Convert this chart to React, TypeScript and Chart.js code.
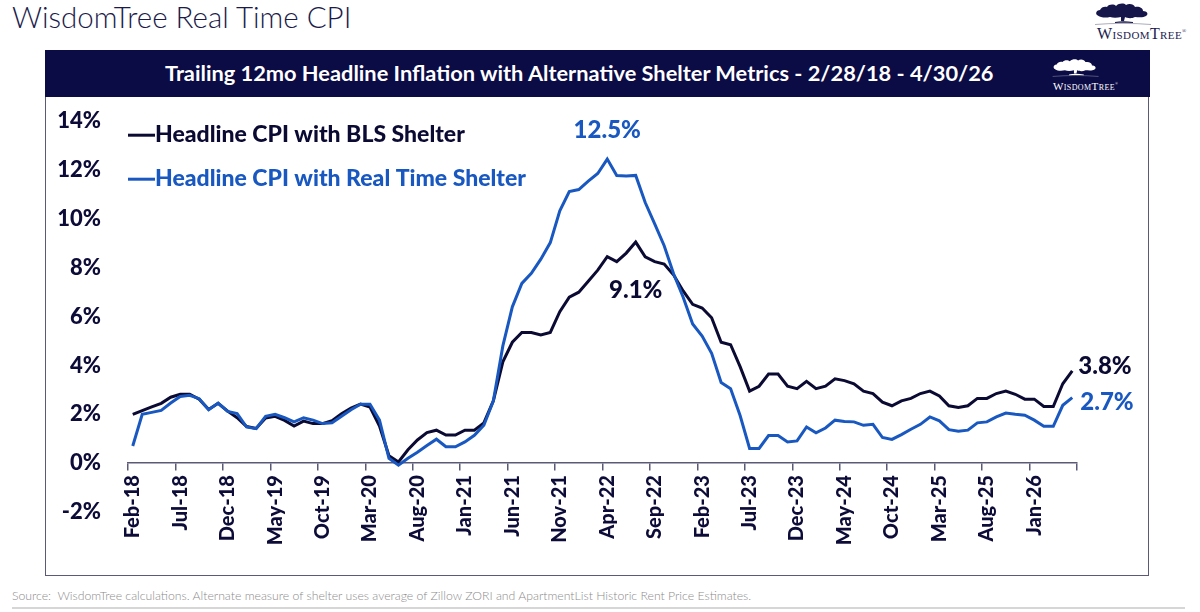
import React, { useEffect, useRef } from "react";
import { Chart, registerables } from "chart.js";

Chart.register(...registerables);

const categories = [
  "Feb-18", "Mar-18", "Apr-18", "May-18", "Jun-18", "Jul-18", "Aug-18", "Sep-18", "Oct-18", "Nov-18", "Dec-18",
  "Jan-19", "Feb-19", "Mar-19", "Apr-19", "May-19", "Jun-19", "Jul-19", "Aug-19", "Sep-19", "Oct-19", "Nov-19", "Dec-19",
  "Jan-20", "Feb-20", "Mar-20", "Apr-20", "May-20", "Jun-20", "Jul-20", "Aug-20", "Sep-20", "Oct-20", "Nov-20", "Dec-20",
  "Jan-21", "Feb-21", "Mar-21", "Apr-21", "May-21", "Jun-21", "Jul-21", "Aug-21", "Sep-21", "Oct-21", "Nov-21", "Dec-21",
  "Jan-22", "Feb-22", "Mar-22", "Apr-22", "May-22", "Jun-22", "Jul-22", "Aug-22", "Sep-22", "Oct-22", "Nov-22", "Dec-22",
  "Jan-23", "Feb-23", "Mar-23", "Apr-23", "May-23", "Jun-23", "Jul-23", "Aug-23", "Sep-23", "Oct-23", "Nov-23", "Dec-23",
  "Jan-24", "Feb-24", "Mar-24", "Apr-24", "May-24", "Jun-24", "Jul-24", "Aug-24", "Sep-24", "Oct-24", "Nov-24", "Dec-24",
  "Jan-25", "Feb-25", "Mar-25", "Apr-25", "May-25", "Jun-25", "Jul-25", "Aug-25", "Sep-25", "Oct-25", "Nov-25", "Dec-25",
  "Jan-26", "Feb-26", "Mar-26", "Apr-26", "May-26",
];

// Headline CPI with BLS Shelter (%)
const blsShelter = [
  2.0, 2.15, 2.3, 2.45, 2.7, 2.82, 2.82, 2.62, 2.2, 2.45, 2.13, 1.86,
  1.5, 1.42, 1.85, 1.92, 1.75, 1.52, 1.72, 1.62, 1.62, 1.74, 2.02, 2.25,
  2.42, 2.3, 1.52, 0.3, 0.05, 0.55, 0.95, 1.25, 1.35, 1.15, 1.15, 1.35,
  1.35, 1.65, 2.55, 4.15, 4.95, 5.35, 5.35, 5.25, 5.35, 6.2, 6.8, 7.0,
  7.45, 7.9, 8.45, 8.25, 8.6, 9.05, 8.45, 8.25, 8.15, 7.7, 7.05, 6.5,
  6.35, 5.95, 4.95, 4.85, 3.95, 2.95, 3.15, 3.65, 3.65, 3.15, 3.05, 3.35,
  3.05, 3.15, 3.45, 3.38, 3.25, 2.95, 2.85, 2.5, 2.35, 2.55, 2.65, 2.85,
  2.95, 2.75, 2.35, 2.28, 2.35, 2.65, 2.65, 2.85, 2.95, 2.82, 2.62, 2.62,
  2.32, 2.32, 3.25, 3.78,
];

// Headline CPI with Real Time Shelter (%)
const realTimeShelter = [
  0.7, 2.0, 2.08, 2.16, 2.46, 2.73, 2.78, 2.64, 2.19, 2.46, 2.12, 2.03,
  1.48, 1.41, 1.92, 2.0, 1.86, 1.69, 1.86, 1.76, 1.62, 1.65, 1.92, 2.19,
  2.41, 2.41, 1.76, 0.2, -0.08, 0.2, 0.45, 0.72, 0.98, 0.67, 0.67, 0.87,
  1.14, 1.55, 2.55, 4.8, 6.4, 7.36, 7.77, 8.35, 9.03, 10.33, 11.12, 11.2,
  11.55, 11.86, 12.45, 11.78, 11.76, 11.78, 10.67, 9.8, 8.9, 7.74, 6.79, 5.7,
  5.2, 4.5, 3.3, 3.05, 1.95, 0.6, 0.6, 1.13, 1.13, 0.87, 0.91, 1.48,
  1.24, 1.44, 1.76, 1.71, 1.69, 1.55, 1.59, 1.05, 0.97, 1.17, 1.39, 1.59,
  1.89, 1.73, 1.37, 1.31, 1.35, 1.65, 1.69, 1.89, 2.05, 2.0, 1.96, 1.76,
  1.51, 1.51, 2.37, 2.68,
];

const seriesNames = ["Headline CPI with BLS Shelter", "Headline CPI with Real Time Shelter"];
const annotationTexts = ["12.5%", "9.1%", "3.8%", "2.7%"];

const Y_MIN = -2;
const Y_MAX = 14;
const Y_STEP = 2;
const LABEL_EVERY = 5;

const NAVY = "#0d0c38";
const BLACK_LINE = "#0b0a33";
const BLUE = "#1858c0";
const BAND = "#0b0b45";
const AXIS = "#5a5a78";
const FONT = "Lato, 'Open Sans', sans-serif";
const HEAVY = "900";

const argMax = (arr: number[]) => arr.reduce((bi, v, i) => (v > arr[bi] ? i : bi), 0);

const overlayPlugin = {
  id: "overlay",
  afterDatasetsDraw(chart: any) {
    const ctx = chart.ctx;
    const ca = chart.chartArea;
    ctx.save();
    // legend
    const legendColors = [BLACK_LINE, BLUE];
    const legendY = [ca.top + 13, ca.top + 57];
    seriesNames.forEach((name, i) => {
      ctx.strokeStyle = legendColors[i];
      ctx.lineWidth = 3;
      ctx.beginPath();
      ctx.moveTo(ca.left, legendY[i] + 1);
      ctx.lineTo(ca.left + 27, legendY[i] + 1);
      ctx.stroke();
      ctx.fillStyle = legendColors[i];
      ctx.font = `${HEAVY} 23px ${FONT}`;
      ctx.textAlign = "left";
      ctx.textBaseline = "middle";
      ctx.fillText(name, ca.left + 27, legendY[i]);
    });
    // annotations
    const blackMeta = chart.getDatasetMeta(0);
    const blueMeta = chart.getDatasetMeta(1);
    const notes = [
      { el: blueMeta.data[argMax(realTimeShelter)], text: annotationTexts[0], color: BLUE, dx: 0, dy: -29, align: "center" },
      { el: blackMeta.data[argMax(blsShelter)], text: annotationTexts[1], color: BLACK_LINE, dx: 0, dy: 48, align: "center" },
      { el: blackMeta.data[blsShelter.length - 1], text: annotationTexts[2], color: BLACK_LINE, dx: 6, dy: -5, align: "left" },
      { el: blueMeta.data[realTimeShelter.length - 1], text: annotationTexts[3], color: BLUE, dx: 8, dy: 5, align: "left" },
    ];
    ctx.font = `${HEAVY} 24px ${FONT}`;
    ctx.textBaseline = "middle";
    notes.forEach((n) => {
      if (!n.el) return;
      ctx.fillStyle = n.color;
      ctx.textAlign = n.align as CanvasTextAlign;
      ctx.fillText(n.text, n.el.x + n.dx, n.el.y + n.dy);
    });
    ctx.restore();
  },
};

function TreeLogo({ color, scale }: { color: string; scale: number }) {
  return (
    <svg width={60 * scale} height={24 * scale} viewBox="0 0 60 24">
      <path
        d="M4 13 C2 11 4 8 7 8 C8 5 12 4 14 5 C16 2 21 2 23 4 C26 1 31 1 33 3 C36 1 41 2 42 5 C46 4 50 6 50 9 C54 9 56 12 53 14 C50 16 45 15 42 15 C38 17 34 16 32 15 L31 19 L28 19 L28 15 C24 16 20 16 17 15 C13 16 8 16 4 13 Z"
        fill={color}
      />
      <path d="M22 20 C27 19 33 19 40 20 L40 21 C33 20.5 27 20.5 22 21 Z" fill={color} />
      <path d="M2 22.5 C20 21 40 21 58 22.5" stroke={color} strokeWidth="0.6" fill="none" opacity="0.6" />
    </svg>
  );
}

function WordMark({ color, size }: { color: string; size: number }) {
  return (
    <span
      style={{
        fontFamily: "'Liberation Serif', 'DejaVu Serif', serif",
        fontVariant: "small-caps",
        fontSize: size,
        color,
        letterSpacing: 0.4,
        whiteSpace: "nowrap",
      }}
    >
      WisdomTree<sup style={{ fontSize: size * 0.35 }}>®</sup>
    </span>
  );
}

export default function App() {
  const canvasRef = useRef<HTMLCanvasElement | null>(null);

  useEffect(() => {
    document.body.style.margin = "0";
    const canvas = canvasRef.current;
    if (!canvas) return;
    const chart = new Chart(canvas, {
      type: "line",
      data: {
        labels: categories,
        datasets: [
          {
            label: seriesNames[0],
            data: blsShelter,
            borderColor: BLACK_LINE,
            borderWidth: 3,
            pointRadius: 0,
            tension: 0,
            fill: false,
            order: 1,
          },
          {
            label: seriesNames[1],
            data: realTimeShelter,
            borderColor: BLUE,
            borderWidth: 3,
            pointRadius: 0,
            tension: 0,
            fill: false,
            order: 0,
          },
        ],
      },
      options: {
        responsive: false,
        animation: false,
        devicePixelRatio: 1,
        layout: { padding: { left: 0, right: 72, top: 39, bottom: 63 } },
        plugins: { legend: { display: false }, tooltip: { enabled: false } },
        scales: {
          x: {
            type: "category",
            offset: true,
            position: { y: 0 } as any,
            grid: {
              display: true,
              drawOnChartArea: false,
              drawTicks: true,
              tickLength: 7,
              offset: true,
              lineWidth: 1.5,
              color: (c: any) => (c.index === undefined || c.index % LABEL_EVERY === 0 ? AXIS : "rgba(0,0,0,0)"),
            },
            border: { display: true, color: AXIS, width: 1.5 },
            ticks: {
              autoSkip: false,
              maxRotation: 90,
              minRotation: 90,
              padding: 5,
              color: NAVY,
              font: { family: FONT, size: 20, weight: HEAVY },
              callback: (_v: any, i: number) => (i % LABEL_EVERY === 0 ? categories[i] : ""),
            },
          },
          y: {
            min: Y_MIN,
            max: Y_MAX,
            afterFit: (s: any) => {
              s.width = 82;
            },
            grid: { display: false, drawTicks: false },
            border: { display: false },
            ticks: {
              stepSize: Y_STEP,
              padding: 27,
              color: NAVY,
              font: { family: FONT, size: 22, weight: HEAVY },
              callback: (v: any) => `${v}%`,
            },
          },
        },
      },
      plugins: [overlayPlugin],
    });
    return () => chart.destroy();
  }, []);

  return (
    <div style={{ position: "absolute", left: 0, top: 0, width: 1200, height: 612, background: "#fff", overflow: "hidden" }}>
      <div
        style={{
          position: "absolute",
          left: 12,
          top: 0,
          fontFamily: FONT,
          fontWeight: 300,
          fontSize: 29.5,
          lineHeight: "34px",
          color: "#1b1b4b",
          whiteSpace: "nowrap",
        }}
      >
        WisdomTree Real Time CPI
      </div>
      <div style={{ position: "absolute", left: 1093, top: 2 }}>
        <TreeLogo color="#16164a" scale={1} />
      </div>
      <div style={{ position: "absolute", left: 1097, top: 25 }}>
        <WordMark color="#1c1c50" size={16} />
      </div>

      <div
        style={{
          position: "absolute",
          left: 45,
          top: 50,
          width: 1102,
          height: 524,
          border: `1.5px solid ${AXIS}`,
        }}
      />
      <div style={{ position: "absolute", left: 45, top: 50, width: 1105, height: 47, background: BAND }} />
      <div
        style={{
          position: "absolute",
          left: 165,
          top: 59,
          fontFamily: FONT,
          fontWeight: 700,
          fontSize: 21.8,
          lineHeight: "28px",
          color: "#fff",
          whiteSpace: "nowrap",
        }}
      >
        Trailing 12mo Headline Inflation with Alternative Shelter Metrics - 2/28/18 - 4/30/26
      </div>
      <div style={{ position: "absolute", left: 1051, top: 58 }}>
        <TreeLogo color="#ffffff" scale={0.82} />
      </div>
      <div style={{ position: "absolute", left: 1053, top: 76 }}>
        <WordMark color="#ffffff" size={11} />
      </div>

      <canvas
        ref={canvasRef}
        width={1103}
        height={494}
        style={{ position: "absolute", left: 46, top: 81, width: 1103, height: 494 }}
      />

      <div
        style={{
          position: "absolute",
          left: 12,
          top: 587,
          fontFamily: FONT,
          fontWeight: 300,
          fontSize: 12.25,
          lineHeight: "18px",
          color: "#8c8c8c",
          whiteSpace: "nowrap",
        }}
      >
        Source:&nbsp; WisdomTree calculations. Alternate measure of shelter uses average of Zillow ZORI and ApartmentList Historic Rent Price Estimates.
      </div>
      <div style={{ position: "absolute", left: 12, top: 607, width: 1173, height: 2, background: "#d6d6d6" }} />
    </div>
  );
}
